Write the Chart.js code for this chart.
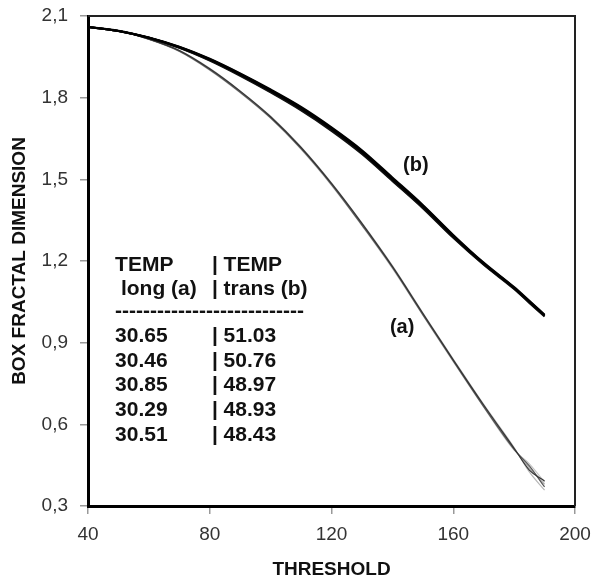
<!DOCTYPE html>
<html>
<head>
<meta charset="utf-8">
<script src="https://cdn.jsdelivr.net/npm/chart.js@4.4.0/dist/chart.umd.min.js"></script>
<style>
  body { margin: 0; background: #fff; }
  #box { width: 592px; height: 583px; }
</style>
</head>
<body>
<div id="box"><canvas id="grafico"></canvas></div>
<script>
// thresholds (x)
const thresholds = [40, 50, 60, 70, 80, 90, 100, 110, 120, 130, 140, 150, 160, 170, 180, 185, 190];

// longitudinal curves (a)
const longA1 = [2.060, 2.045, 2.015, 1.972, 1.905, 1.822, 1.728, 1.615, 1.483, 1.335, 1.178, 1.005, 0.835, 0.668, 0.510, 0.440, 0.380];
const longA2 = [2.060, 2.045, 2.014, 1.970, 1.901, 1.818, 1.724, 1.610, 1.478, 1.330, 1.173, 1.001, 0.830, 0.663, 0.505, 0.455, 0.388];
const longA3 = [2.060, 2.046, 2.016, 1.974, 1.908, 1.825, 1.732, 1.619, 1.487, 1.340, 1.183, 1.010, 0.840, 0.673, 0.515, 0.425, 0.358];
const longA4 = [2.060, 2.045, 2.015, 1.971, 1.903, 1.820, 1.726, 1.613, 1.481, 1.332, 1.176, 1.003, 0.833, 0.665, 0.508, 0.447, 0.370];
const longA5 = [2.060, 2.045, 2.015, 1.973, 1.906, 1.824, 1.730, 1.617, 1.485, 1.338, 1.180, 1.008, 0.837, 0.671, 0.512, 0.432, 0.392];

// transversal curves (b)
const transB1 = [2.060, 2.045, 2.020, 1.985, 1.940, 1.885, 1.825, 1.760, 1.685, 1.600, 1.500, 1.400, 1.290, 1.190, 1.100, 1.050, 1.000];
const transB2 = [2.060, 2.045, 2.019, 1.983, 1.936, 1.880, 1.819, 1.753, 1.678, 1.593, 1.494, 1.394, 1.285, 1.186, 1.097, 1.046, 0.996];
const transB3 = [2.060, 2.046, 2.021, 1.987, 1.943, 1.889, 1.830, 1.766, 1.691, 1.607, 1.507, 1.406, 1.296, 1.194, 1.104, 1.054, 1.003];
const transB4 = [2.060, 2.045, 2.020, 1.984, 1.938, 1.883, 1.822, 1.757, 1.682, 1.597, 1.497, 1.397, 1.288, 1.188, 1.099, 1.048, 0.998];
const transB5 = [2.060, 2.045, 2.020, 1.986, 1.941, 1.887, 1.827, 1.763, 1.688, 1.603, 1.503, 1.403, 1.293, 1.192, 1.102, 1.052, 1.002];

// table in the plot
const tempLong = ["30.65", "30.46", "30.85", "30.29", "30.51"];
const tempTrans = ["51.03", "50.76", "48.97", "48.93", "48.43"];

const xTicks = [40, 80, 120, 160, 200];
const yTicks = [0.3, 0.6, 0.9, 1.2, 1.5, 1.8, 2.1];

const fonte = "'Liberation Sans', Arial, sans-serif";

function pontos(valores) {
  return thresholds.map((t, i) => ({ x: t, y: valores[i] }));
}

function serie(label, valores, cor, largura) {
  return {
    label: label,
    data: pontos(valores),
    borderColor: cor,
    borderWidth: largura,
    pointRadius: 0,
    cubicInterpolationMode: "monotone",
    fill: false,
  };
}

// chart.js draws the first dataset on top, so dark lines go first
const datasets = [
  serie("b1", transB1, "#000", 2),
  serie("b2", transB2, "#111", 2),
  serie("b3", transB3, "#000", 2),
  serie("b4", transB4, "#222", 2),
  serie("b5", transB5, "#000", 2),
  serie("a5", longA5, "#333", 1.2),
  serie("a4", longA4, "#555", 1.2),
  serie("a1", longA1, "#a8a8a8", 1.2),
  serie("a2", longA2, "#c4c4c4", 1.2),
  serie("a3", longA3, "#b8b8b8", 1.2),
];

// frame + text inside the plot
const textosPlugin = {
  id: "textos",
  afterDraw(chart) {
    const ctx = chart.ctx;
    const area = chart.chartArea;
    const xs = chart.scales.x;
    const ys = chart.scales.y;
    const px = (v) => xs.getPixelForValue(v);
    const py = (v) => ys.getPixelForValue(v);

    ctx.save();
    ctx.strokeStyle = "#222";
    ctx.lineWidth = 2;
    ctx.beginPath();
    ctx.moveTo(area.left, area.top);
    ctx.lineTo(area.right, area.top);
    ctx.lineTo(area.right, area.bottom);
    ctx.stroke();

    ctx.fillStyle = "#111";
    ctx.font = "bold 20px " + fonte;
    ctx.textBaseline = "alphabetic";
    ctx.textAlign = "left";

    ctx.fillText("(b)", px(143.5), py(1.530));
    ctx.fillText("(a)", px(139.2), py(0.934));

    ctx.font = "bold 21px " + fonte;
    const esq = px(48.9);
    const meio = px(80.7);
    ctx.fillText("TEMP", esq, py(1.165));
    ctx.fillText("| TEMP", meio, py(1.165));
    ctx.fillText(" long (a)", esq, py(1.074));
    ctx.fillText("| trans (b)", meio, py(1.074));
    ctx.fillText("---------------------------", esq, py(0.993));
    const linhas = [0.901, 0.810, 0.722, 0.630, 0.538];
    linhas.forEach((y, i) => {
      ctx.fillText(tempLong[i], esq, py(y));
      ctx.fillText("| " + tempTrans[i], meio, py(y));
    });
    ctx.restore();
  },
};

const grafico = document.querySelector("#grafico");

new Chart(grafico, {
  type: "line",
  data: { datasets: datasets },
  options: {
    responsive: true,
    maintainAspectRatio: false,
    animation: false,
    layout: { padding: { top: 16, right: 17, left: 0, bottom: 0 } },
    plugins: {
      legend: { display: false },
      tooltip: { enabled: false },
    },
    scales: {
      x: {
        type: "linear",
        min: 40,
        max: 200,
        afterBuildTicks: (axis) => {
          axis.ticks = xTicks.map((v) => ({ value: v }));
        },
        afterFit: (axis) => {
          axis.height = 77;
          axis.paddingLeft = 0;
          axis.paddingRight = 0;
        },
        border: { display: true, color: "#000", width: 3 },
        grid: { drawOnChartArea: false, drawTicks: true, tickLength: 8, color: "#999", lineWidth: 1.5 },
        ticks: {
          padding: 9,
          color: "#333",
          font: { family: fonte, size: 19 },
          maxRotation: 0,
        },
        title: {
          display: true,
          text: "THRESHOLD",
          color: "#111",
          font: { family: fonte, size: 19, weight: "bold" },
          padding: { top: 0, bottom: 2 },
        },
      },
      y: {
        type: "linear",
        min: 0.3,
        max: 2.1,
        afterBuildTicks: (axis) => {
          axis.ticks = yTicks.map((v) => ({ value: v }));
        },
        afterFit: (axis) => {
          axis.width = 88;
          axis.paddingTop = 0;
          axis.paddingBottom = 0;
        },
        border: { display: true, color: "#000", width: 3 },
        grid: { drawOnChartArea: false, drawTicks: true, tickLength: 8, color: "#999", lineWidth: 1.5 },
        ticks: {
          padding: 12,
          color: "#333",
          font: { family: fonte, size: 19 },
          callback: (v) => v.toFixed(1).replace(".", ","),
        },
        title: {
          display: true,
          text: "BOX FRACTAL DIMENSION",
          color: "#111",
          font: { family: fonte, size: 19, weight: "bold" },
          padding: { top: 8, bottom: 0 },
        },
      },
    },
  },
  plugins: [textosPlugin],
});
</script>
</body>
</html>
